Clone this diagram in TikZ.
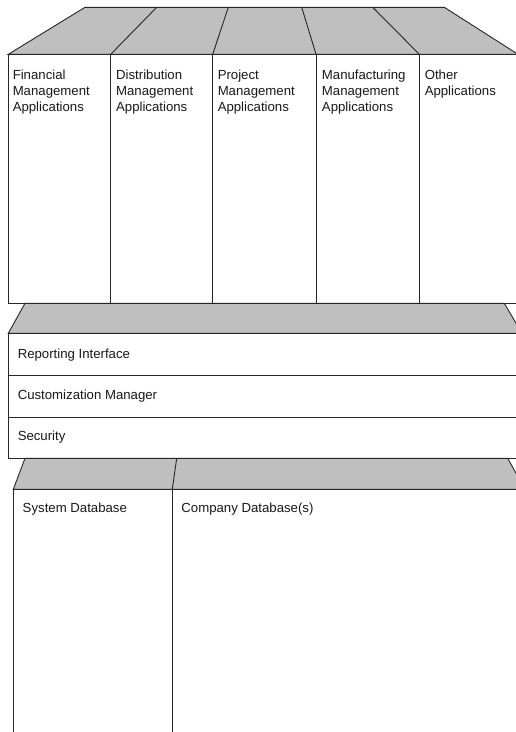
\documentclass[tikz,border=0pt]{standalone}
\usepackage{fontspec}
\setmainfont{Liberation Sans}
\begin{document}
\begin{tikzpicture}[x=1pt,y=-1pt,line width=0.9pt,
  shade3d/.style={draw=black!85,fill=black!25,line join=miter},
  face/.style={draw=black!85,fill=white},
  lbl/.style={inner sep=0pt,font=\fontsize{13.2}{16}\selectfont,align=left,text=black!90}]
\useasboundingbox (0,0) rectangle (516,732);
\clip (0,0) rectangle (516,732);
% ---------- top block: applications ----------
\draw[shade3d] (85,7.3) -- (444.3,7.3) -- (518,54.3) -- (8.3,54.3) -- cycle;
\draw[face] (8.3,54.3) rectangle (522,303.3);
\draw[black!85] (110.7,54.3) -- (156.7,7.3);
\draw[black!85] (212.7,54.3) -- (228.3,7.3);
\draw[black!85] (316,54.3) -- (301.7,7.3);
\draw[black!85] (419.3,54.3) -- (372.7,7.3);
\draw[black!85] (110.7,54.3) -- (110.7,303.3);
\draw[black!85] (212.7,54.3) -- (212.7,303.3);
\draw[black!85] (316,54.3) -- (316,303.3);
\draw[black!85] (419.3,54.3) -- (419.3,303.3);
\node[lbl,anchor=north west] (fin) at (12.3,69.3) {Financial\\Management\\Applications};
\node[lbl,anchor=north west] (dist) at (115.7,69.3) {Distribution\\Management\\Applications};
\node[lbl,anchor=north west] (proj) at (217.3,69.3) {Project\\Management\\Applications};
\node[lbl,anchor=north west] (manu) at (321.5,69.3) {Manufacturing\\Management\\Applications};
\node[lbl,anchor=north west] (other) at (424.3,69.3) {Other\\Applications};
% ---------- middle block: services ----------
\draw[shade3d] (25,303.3) -- (504.3,303.3) -- (522,333.3) -- (8.3,333.3) -- cycle;
\draw[face] (8.3,333.3) rectangle (530,458.3);
\draw[black!85] (8.3,375.7) -- (530,375.7);
\draw[black!85] (8.3,417.3) -- (530,417.3);
\node[lbl,anchor=base west] (rep) at (17.3,358) {Reporting Interface};
\node[lbl,anchor=base west] (cust) at (17.3,399.7) {Customization Manager};
\node[lbl,anchor=base west] (sec) at (17.3,440.4) {Security};
% ---------- bottom block: databases ----------
\draw[shade3d] (25,458.3) -- (507.7,458.3) -- (525,489.3) -- (13.3,489.3) -- cycle;
\draw[black!85] (176.7,458.3) -- (172.3,489.3);
\draw[face] (13.3,489.3) rectangle (530,745);
\draw[black!85] (172.3,489.3) -- (172.3,745);
\node[lbl,anchor=base west] (sysdb) at (22.3,512.4) {System Database};
\node[lbl,anchor=base west] (compdb) at (181,512.4) {Company Database(s)};
\end{tikzpicture}
\end{document}
